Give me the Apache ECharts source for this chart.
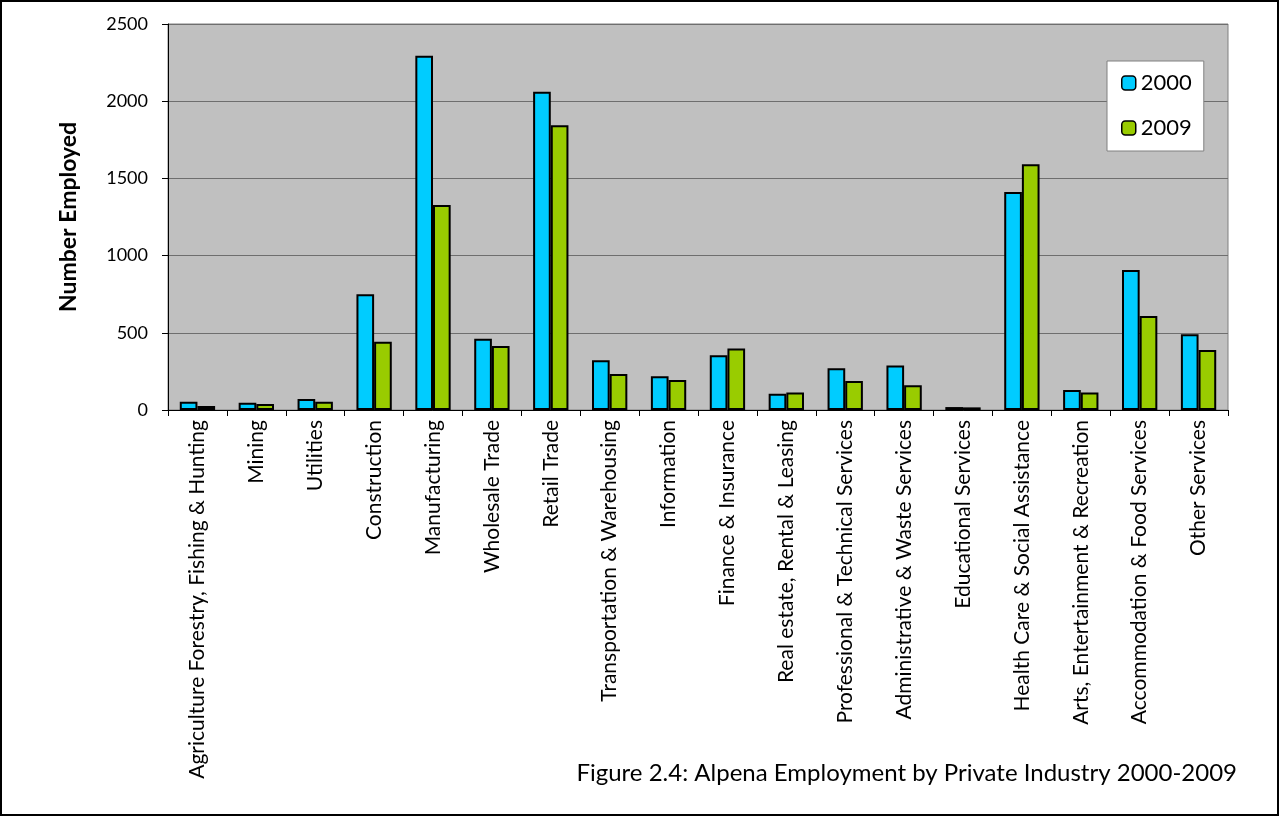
<!DOCTYPE html>
<html>
<head>
<meta charset="utf-8">
<script src="https://cdn.jsdelivr.net/npm/echarts@6/dist/echarts.min.js"></script>
<style>
html,body{margin:0;padding:0;background:#fff;}
#chart{width:1280px;height:817px;}
</style>
</head>
<body>
<div id="chart"></div>
<script>
const categories = [
  "Agriculture Forestry, Fishing & Hunting",
  "Mining",
  "Utilities",
  "Construction",
  "Manufacturing",
  "Wholesale Trade",
  "Retail Trade",
  "Transportation & Warehousing",
  "Information",
  "Finance & Insurance",
  "Real estate, Rental & Leasing",
  "Professional & Technical Services",
  "Administrative & Waste Services",
  "Educational Services",
  "Health Care & Social Assistance",
  "Arts, Entertainment & Recreation",
  "Accommodation & Food Services",
  "Other Services"
];
const values2000 = [54, 47, 71, 749, 2295, 462, 2062, 322, 218, 354, 106, 270, 289, 19, 1412, 130, 907, 490];
const values2009 = [26, 39, 54, 442, 1328, 414, 1844, 233, 194, 399, 114, 188, 160, 17, 1591, 114, 609, 389];
const seriesNames = ["2000", "2009"];
const yTicks = [0, 500, 1000, 1500, 2000, 2500];
const titleText = "Figure 2.4: Alpena Employment by Private Industry 2000-2009";
const yAxisTitle = "Number Employed";

const FONT = "Lato, 'Open Sans', sans-serif";
const chart = echarts.init(document.getElementById('chart'), null, {renderer: 'canvas'});
chart.setOption({
  animation: false,
  backgroundColor: '#ffffff',
  textStyle: {fontFamily: FONT, color: '#000'},
  title: {
    text: titleText,
    right: 38,
    top: 756,
    textStyle: {fontFamily: FONT, fontSize: 24, fontWeight: 'normal', color: '#000'}
  },
  graphic: [{
    type: 'rect',
    shape: {x: 1, y: 1, width: 1277, height: 814},
    style: {fill: 'none', stroke: '#000', lineWidth: 2},
    silent: true,
    z: 100
  }],
  legend: {
    data: seriesNames,
    orient: 'vertical',
    left: 1107,
    top: 61,
    padding: [11, 12, 12, 14],
    itemGap: 23,
    itemWidth: 14,
    itemHeight: 14,
    backgroundColor: '#ffffff',
    borderColor: '#808080',
    borderWidth: 1,
    borderRadius: 0,
    textStyle: {fontFamily: FONT, fontSize: 22, color: '#000'},
    itemStyle: {borderColor: '#000', borderWidth: 1.5}
  },
  grid: {
    left: 168,
    top: 24,
    right: 52,
    bottom: 407,
    show: true,
    backgroundColor: '#c0c0c0',
    borderColor: '#808080',
    borderWidth: 1,
    containLabel: false
  },
  xAxis: {
    type: 'category',
    data: categories,
    axisLine: {show: true, lineStyle: {color: '#000', width: 1}},
    axisTick: {show: true, alignWithLabel: false, length: 6, lineStyle: {color: '#000'}},
    axisLabel: {
      interval: 0,
      rotate: 90,
      fontFamily: FONT,
      fontSize: 21,
      color: '#000',
      margin: 10
    },
    splitLine: {show: false}
  },
  yAxis: {
    type: 'value',
    min: 0,
    max: 2500,
    interval: 500,
    name: yAxisTitle,
    nameLocation: 'middle',
    nameGap: 88,
    nameRotate: 90,
    nameTextStyle: {fontFamily: FONT, fontSize: 23, fontWeight: 'bold', color: '#000'},
    axisLine: {show: true, lineStyle: {color: '#000', width: 1}},
    axisTick: {show: true, length: 6, inside: false, lineStyle: {color: '#000'}},
    axisLabel: {
      fontFamily: FONT,
      fontSize: 18,
      color: '#000',
      margin: 20,
      formatter: function (v) { return yTicks.indexOf(v) >= 0 ? String(v) : ''; }
    },
    splitLine: {show: true, lineStyle: {color: '#6e6e6e', width: 1}}
  },
  series: [
    {
      name: seriesNames[0],
      type: 'bar',
      data: values2000,
      barGap: '0%',
      barCategoryGap: '40%',
      itemStyle: {color: '#00ccff', borderColor: '#000', borderWidth: 2}
    },
    {
      name: seriesNames[1],
      type: 'bar',
      data: values2009,
      barGap: '0%',
      barCategoryGap: '40%',
      itemStyle: {color: '#99cc00', borderColor: '#000', borderWidth: 2}
    }
  ]
});
</script>
</body>
</html>
